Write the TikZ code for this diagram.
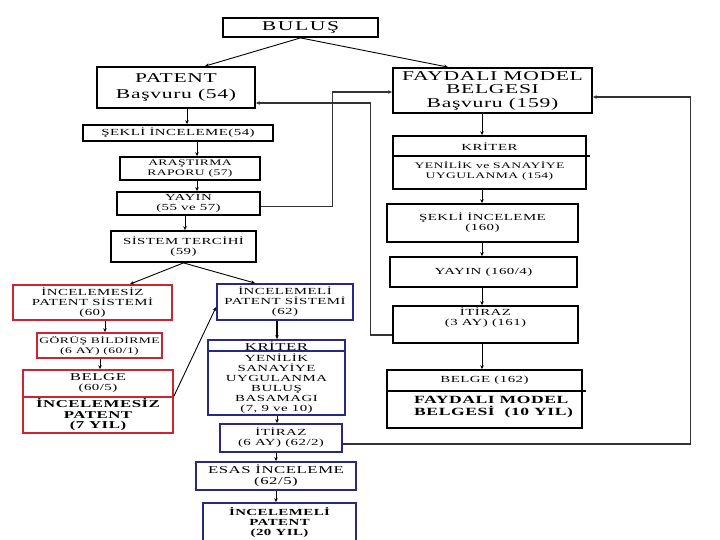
\documentclass[tikz,border=0pt]{standalone}
\usepackage{fontspec}
\setmainfont[FakeStretch=1.6,LetterSpace=5]{Liberation Serif}
\usetikzlibrary{arrows.meta}
\definecolor{rbox}{RGB}{205,35,50}
\definecolor{bbox}{RGB}{40,40,135}
\newcommand\fa{\fontsize{9.3}{10}\selectfont}
\newcommand\fs{\fontsize{8.5}{10}\selectfont}
\newcommand\fb{\fontsize{10.5}{11.5}\selectfont}
\newcommand\fc{\fontsize{13.5}{13.5}\selectfont}
\begin{document}
\begin{tikzpicture}[x=1pt,y=-1pt,
  kb/.style n args={2}{draw, line width=1.8pt, minimum width=#1, minimum height=#2, inner sep=0pt, align=center, font=\fa},
  rb/.style n args={2}{draw=rbox, line width=1.8pt, minimum width=#1, minimum height=#2, inner sep=0pt, align=center, font=\fa},
  bb/.style n args={2}{draw=bbox, line width=1.8pt, minimum width=#1, minimum height=#2, inner sep=0pt, align=center, font=\fa},
  tx/.style={inner sep=0pt, align=center, font=\fa},
  arr/.style={-{Stealth[length=4pt,width=3.5pt]}, line width=0.9pt},
  lp/.style={-{Stealth[length=4pt,width=3.5pt]}, line width=1.1pt, black!80}
]
\useasboundingbox (0,0) rectangle (720,540);
\fill[white] (0,0) rectangle (720,540);

% top
\node[kb={155}{19}, font=\fc\addfontfeature{LetterSpace=12}] (bulus) at (300.5,27.5) {BULUŞ};
\node[kb={158}{41}, font=\fc] (patent) at (176,87.5) {PATENT\\[2pt] Başvuru (54)};
\node[kb={199}{45}, font=\fc] (fmb) at (492.5,90.5) {FAYDALI MODEL\\BELGESI\\Başvuru (159)};

% left black column
\node[kb={190}{16}] (sek54) at (178,133) {ŞEKLİ İNCELEME(54)};
\node[kb={140}{23}, font=\fs] (aras) at (190,168.5) {ARAŞTIRMA\\RAPORU (57)};
\node[kb={143}{23}] (yay) at (188.5,203.5) {YAYIN\\(55 ve 57)};
\node[kb={145}{31}] (sis) at (183.5,246.5) {SİSTEM TERCİHİ\\(59)};

% right black column
\node[kb={193}{53}] (krit1) at (489.5,162.5) {};
\node[tx] (krit1a) at (489.5,146.5) {KRİTER};
\node[tx, font=\fs] (krit1b) at (489.5,171) {YENİLİK ve SANAYİYE\\UYGULANMA (154)};
\draw[line width=1.5pt] ([yshift=-21pt]krit1.north west) -- ([yshift=-21pt,xshift=3pt]krit1.north east);
\node[kb={191}{38}] (sek160) at (482.5,223) {ŞEKLİ İNCELEME\\(160)};
\node[kb={187}{30}] (yay160) at (483.5,272) {YAYIN (160/4)};
\node[kb={185}{37}] (iti161) at (485.5,324.5) {};
\node[tx] (iti161t) at (485.5,318) {İTİRAZ\\(3 AY) (161)};
\node[kb={195}{58}] (bel162) at (484.5,399) {};
\node[tx] (bel162a) at (484.5,380) {BELGE (162)};
\draw[line width=1.5pt] ([yshift=-22pt]bel162.north west) -- ([yshift=-22pt,xshift=3pt]bel162.north east);
\node[tx, anchor=west, align=left, font=\fontsize{11}{12}\selectfont\bfseries] (bel162b) at (414,407) {FAYDALI MODEL\\BELGESİ \ (10 YIL)};

% red column
\node[rb={159}{35}] (red1) at (92.5,302.5) {İNCELEMESİZ\\PATENT SİSTEMİ\\(60)};
\node[rb={125}{25}, font=\fs] (gor) at (99.5,345.5) {GÖRÜŞ BİLDİRME\\(6 AY) (60/1)};
\node[rb={150}{27}] (bel60) at (98,383.5) {{\fb BELGE}\\(60/5)};
\node[rb={150}{36}, font=\fontsize{10.5}{10.5}\selectfont\bfseries] (incsiz) at (98,415) {İNCELEMESİZ\\PATENT\\(7 YIL)};

% blue column
\node[bb={136}{36}] (blue1) at (285,302) {İNCELEMELİ\\PATENT SİSTEMİ\\(62)};
\node[bb={137}{75}] (kritB) at (276.5,377.5) {};
\node[tx, font=\fb] (kritBa) at (276.5,346) {KRİTER};
\draw[bbox, line width=1.5pt] ([yshift=-12pt]kritB.north west) -- ([yshift=-12pt]kritB.north east);
\node[tx] (kritBb) at (276.5,383.5) {YENİLİK\\SANAYİYE\\UYGULANMA\\BULUŞ\\BASAMAGI\\(7, 9 ve 10)};
\node[bb={122}{28}] (iti62) at (281,438) {İTİRAZ\\(6 AY) (62/2)};
\node[bb={160}{28}, font=\fb] (esas) at (276,476) {ESAS İNCELEME\\(62/5)};
\node[bb={153}{40}, font=\fa\bfseries] (incli) at (279.5,523) {İNCELEMELİ\\PATENT\\(20 YIL)};

% connectors
\draw[arr] (bulus.south) -- ([xshift=29pt]patent.north);
\draw[arr] (bulus.south) -- ([xshift=-44.5pt]fmb.north);
\draw[arr] ([xshift=9pt]sek54.north |- patent.south) -- ([xshift=9pt]sek54.north);
\draw[arr] ([xshift=7pt]aras.north |- sek54.south) -- ([xshift=7pt]aras.north);
\draw[arr] ([xshift=8.5pt]yay.north |- aras.south) -- ([xshift=8.5pt]yay.north);
\draw[arr] ([xshift=1.5pt]sis.north |- yay.south) -- ([xshift=1.5pt]sis.north);
\draw[arr] (sis.south) -- ([xshift=37.5pt]red1.north);
\draw[arr] (sis.south) -- ([xshift=-30pt]blue1.north);

\draw[arr] ([xshift=-7.5pt]krit1.north |- fmb.south) -- ([xshift=-7.5pt]krit1.north);
\draw[arr] ([xshift=-0.5pt]sek160.north |- krit1.south) -- ([xshift=-0.5pt]sek160.north);
\draw[arr] ([xshift=-1.5pt]yay160.north |- sek160.south) -- ([xshift=-1.5pt]yay160.north);
\draw[arr] ([xshift=-3.5pt]iti161.north |- yay160.south) -- ([xshift=-3.5pt]iti161.north);
\draw[arr] ([xshift=-2.5pt]bel162.north |- iti161.south) -- ([xshift=-2.5pt]bel162.north);

\draw[arr] ([xshift=5.5pt]gor.north |- red1.south) -- ([xshift=5.5pt]gor.north);
\draw[arr] ([xshift=2pt]bel60.north |- gor.south) -- ([xshift=2pt]bel60.north);
\draw[arr] (incsiz.north east) -- ([yshift=-5pt]blue1.west);

\draw[arr, line width=1.8pt] ([xshift=0.5pt]kritB.north |- blue1.south) -- ([xshift=0.5pt]kritB.north);
\draw[arr] ([xshift=-4pt]iti62.north |- kritB.south) -- ([xshift=-4pt]iti62.north);
\draw[arr] (esas.north |- iti62.south) -- (esas.north);
\draw[arr] ([xshift=-3.5pt]incli.north |- esas.south) -- ([xshift=-3.5pt]incli.north);

% feedback loops
\draw[lp] ([yshift=-3pt]yay.east) -- ++(72,0) |- ([yshift=-1.5pt]fmb.west);
\draw[lp] ([yshift=-10.5pt]iti161.west) -- ++(-22,0) |- ([yshift=-15.5pt]patent.east);
\draw[lp] ([yshift=-6pt]iti62.east) -- ++(348,0) |- ([yshift=-6.5pt]fmb.east);
\end{tikzpicture}
\end{document}
